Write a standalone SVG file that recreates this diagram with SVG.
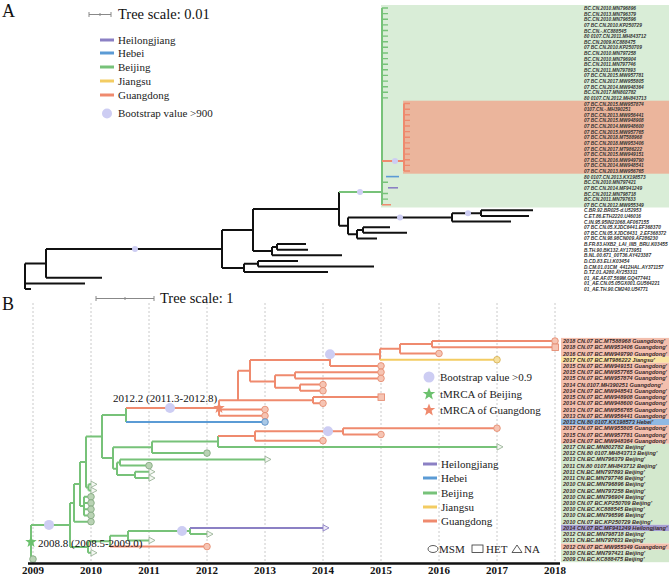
<svg xmlns="http://www.w3.org/2000/svg" width="669" height="575" viewBox="0 0 669 575">
<style>
.ttl{font-family:"Liberation Serif",serif;fill:#111}
.leg{font-family:"Liberation Serif",serif;font-size:11px;fill:#222}
.la{font-family:"Liberation Sans",Arial,sans-serif;font-size:4.8px;font-weight:bold;font-style:italic;fill:#333}
.lb{font-family:"Liberation Sans",Arial,sans-serif;font-size:5.6px;font-weight:bold;font-style:italic;fill:#3a2a2a}
.yr{font-family:"Liberation Serif",serif;font-size:11px;font-weight:bold;fill:#111;text-anchor:middle}
.k{stroke:#111;stroke-width:2;fill:none}
.g{stroke:#77c279;stroke-width:2;fill:none}
.o{stroke:#ef8a6e;stroke-width:2;fill:none}
.b{stroke:#5b9bd5;stroke-width:2;fill:none}
.p{stroke:#8b80c4;stroke-width:2;fill:none}
.y{stroke:#f3cc62;stroke-width:2;fill:none}
.ga{stroke:#77c279;stroke-width:1.4;fill:none}
.oa{stroke:#ef8a6e;stroke-width:1.4;fill:none}
.bs{fill:#cdcdf3}
.grid{stroke:#bdbdbd;stroke-width:0.8;stroke-dasharray:2,2}
.tco{fill:#f6c4b3;stroke:#e58d72;stroke-width:0.9}
.tcg{fill:#b9d3b4;stroke:#86aa82;stroke-width:0.9}
.tcb{fill:#a9c8e6;stroke:#5b8fc4;stroke-width:0.9}
.tcy{fill:#f6e0a0;stroke:#d9b45a;stroke-width:0.9}
.tri{fill:#f4f8f2;stroke:#9bb498;stroke-width:0.9}
.trp{fill:#eeeaf8;stroke:#8b80c4;stroke-width:0.9}
.bgo{fill:#f3bfae}.bgg{fill:#d3e8cd}.bgb{fill:#8fb9e3}.bgp{fill:#a79fd4}.bgy{fill:#f9e3a1}
</style>
<defs>
<path id="star" d="M0,-6 L1.6,-1.9 L5.7,-1.9 L2.4,0.7 L3.5,4.9 L0,2.4 L-3.5,4.9 L-2.4,0.7 L-5.7,-1.9 L-1.6,-1.9 Z"/>
</defs>

<!-- ================= PANEL A ================= -->
<g id="panelA-header">
<text class="ttl" x="2" y="17" font-size="18">A</text>
<path d="M89,14.5H111M89,12V17M100,13V16M111,12V17" stroke="#888" stroke-width="1" fill="none"/>
<text class="ttl" x="118" y="19" font-size="14.5">Tree scale: 0.01</text>
</g>
<g id="panelA-legend">
<path d="M100,40H114" stroke="#8b80c4" stroke-width="3"/>
<path d="M100,53H114" stroke="#5b9bd5" stroke-width="3"/>
<path d="M100,67H114" stroke="#77c279" stroke-width="3"/>
<path d="M100,81H114" stroke="#f3cc62" stroke-width="3"/>
<path d="M100,95H114" stroke="#ef8a6e" stroke-width="3"/>
<text class="leg" x="118" y="43.5">Heilongjiang</text>
<text class="leg" x="118" y="56.5">Hebei</text>
<text class="leg" x="118" y="70.5">Beijing</text>
<text class="leg" x="118" y="84.5">Jiangsu</text>
<text class="leg" x="118" y="98.5">Guangdong</text>
<circle class="bs" cx="107" cy="113.5" r="5"/>
<text class="leg" x="118" y="117">Bootstrap value &gt;900</text>
</g>
<g id="panelA-bg">
<rect x="381" y="5" width="288" height="202.5" fill="#d9edd7"/>
<rect x="403" y="100.7" width="266" height="73" fill="#ebb59c"/>
</g>
<g id="panelA-connectors">
<path class="k" d="M25,263.4V289M25,263.4H46M25,283.4H85M25,289H31"/>
<path class="k" d="M46,249V277.8M46,277.8H102M46,249H222"/>
<path class="k" d="M222,230V267.9M222,230H253M222,267.9H244"/>
<path class="k" d="M244,263.7V272.1M244,263.7H258M244,272.1H328M258,260.9V266.5M258,260.9H298M258,266.5H374"/>
<path class="k" d="M253,208.9V251.1M253,208.9H339M253,251.1H272"/>
<path class="k" d="M272,246.9V255.3M272,246.9H277M272,255.3H342M277,244V249.7M277,244H306M277,249.7H308"/>
<path class="k" d="M339,192V225.8M339,225.8H348"/>
<path class="k" d="M348,217.4V234.2M348,217.4H452M348,234.2H357"/>
<path class="k" d="M357,230V238.4M357,230H363M357,238.4H377M363,227.2V232.8M363,227.2H390M363,232.8H407"/>
<path class="k" d="M452,213.2V221.6M452,213.2H481M452,221.6H511M481,210.3V215.9M481,210.3H533M481,215.9H529"/>
<path class="g" d="M339,192H382"/>
<path class="g" d="M382,8V205" stroke-width="2.5"/>
<path class="ga" d="M382,8H388M382,13.6H388M382,19.2H388M382,24.9H388M382,30.5H388M382,36.1H388M382,41.7H388M382,47.3H388M382,53H388M382,58.6H388M382,64.2H388M382,69.8H388M382,75.4H388M382,81.1H388M382,86.7H388M382,92.3H388M382,97.9H388M382,182.2H388M382,193.5H388M382,199.1H388"/>
<path class="o" d="M382,161H404M404,103.5V171"/>
<path class="oa" d="M404,103.5H410M404,109.2H410M404,114.8H410M404,120.4H410M404,126H410M404,131.6H410M404,137.3H410M404,142.9H410M404,148.5H410M404,154.1H410M404,159.7H410M404,165.4H410M404,171H410M382,204.7H391"/>
<path d="M386,176.6H399" stroke="#5b9bd5" stroke-width="1.6"/>
<path d="M388,187.8H398" stroke="#8b80c4" stroke-width="1.6"/>
<circle class="bs" cx="135" cy="249" r="3"/>
<circle class="bs" cx="360" cy="192" r="3"/>
<circle class="bs" cx="400" cy="217.4" r="3"/>
<circle class="bs" cx="468" cy="213.2" r="3"/>
<circle class="bs" cx="395" cy="161" r="3"/>
</g>
<g id="panelA-labels">
<text class="la" x="584" y="10">BC.CN.2010.MN796896</text>
<text class="la" x="584" y="15.6">BC.CN.2013.MN796379</text>
<text class="la" x="584" y="21.2">BC.CN.2010.MN796596</text>
<text class="la" x="584" y="26.9">07 BC.CN.2010.KP250729</text>
<text class="la" x="584" y="32.5">BC.CN.-.KC888545</text>
<text class="la" x="584" y="38.1">80 0107.CN.2011.MH843712</text>
<text class="la" x="584" y="43.7">BC.CN.2009.KC888475</text>
<text class="la" x="584" y="49.3">07 BC.CN.2010.KP250709</text>
<text class="la" x="584" y="55">BC.CN.2010.MN797258</text>
<text class="la" x="584" y="60.6">BC.CN.2010.MN796904</text>
<text class="la" x="584" y="66.2">BC.CN.2011.MN797746</text>
<text class="la" x="584" y="71.8">BC.CN.2011.MN797893</text>
<text class="la" x="584" y="77.4">07 BC.CN.2015.MW957781</text>
<text class="la" x="584" y="83.1">07 BC.CN.2017.MW955805</text>
<text class="la" x="584" y="88.7">07 BC.CN.2014.MW948364</text>
<text class="la" x="584" y="94.3">BC.CN.2017.MN802782</text>
<text class="la" x="584" y="99.9">80 0107.CN.2012.MH843713</text>
<text class="la" x="584" y="105.5">07 BC.CN.2015.MW957874</text>
<text class="la" x="584" y="111.2">0107.CN.-.MH390251</text>
<text class="la" x="584" y="116.8">07 BC.CN.2013.MW956441</text>
<text class="la" x="584" y="122.4">07 BC.CN.2015.MW948908</text>
<text class="la" x="584" y="128">07 BC.CN.2014.MW948600</text>
<text class="la" x="584" y="133.6">07 BC.CN.2015.MW957765</text>
<text class="la" x="584" y="139.3">07 BC.CN.2018.MT588968</text>
<text class="la" x="584" y="144.9">07 BC.CN.2018.MW953406</text>
<text class="la" x="584" y="150.5">07 BC.CN.2017.MT986222</text>
<text class="la" x="584" y="156.1">07 BC.CN.2015.MW949151</text>
<text class="la" x="584" y="161.7">07 BC.CN.2016.MW949790</text>
<text class="la" x="584" y="167.4">07 BC.CN.2014.MW948541</text>
<text class="la" x="584" y="173">07 BC.CN.2013.MW956765</text>
<text class="la" x="584" y="178.6">80 0107.CN.2013.KX198573</text>
<text class="la" x="584" y="184.2">BC.CN.2010.MN797421</text>
<text class="la" x="584" y="189.8">07 BC.CN.2014.MF941249</text>
<text class="la" x="584" y="195.5">BC.CN.2012.MN798718</text>
<text class="la" x="584" y="201.1">BC.CN.2011.MN797633</text>
<text class="la" x="584" y="206.7">07 BC.CN.2012.MW955349</text>
<text class="la" x="584" y="212.3">C.BR.92.BR025-d.U52953</text>
<text class="la" x="584" y="217.9">C.ET.86.ETH2220.U46016</text>
<text class="la" x="584" y="223.6">C.IN.95.95IN21068.AF067155</text>
<text class="la" x="584" y="229.2">07 BC.CN.05.XJDC6441.EF368370</text>
<text class="la" x="584" y="234.8">07 BC.CN.05.XJDC6431_2.EF368372</text>
<text class="la" x="584" y="240.4">07 BC.CN.98.98CN009.AF286230</text>
<text class="la" x="584" y="246">B.FR.83.HXB2_LAI_IIIB_BRU.K03455</text>
<text class="la" x="584" y="251.7">B.TH.90.BK132.AY173951</text>
<text class="la" x="584" y="257.3">B.NL.00.671_00T36.AY423387</text>
<text class="la" x="584" y="262.9">D.CD.83.ELI.K03454</text>
<text class="la" x="584" y="268.5">D.CM.01.01CM_4412HAL.AY371157</text>
<text class="la" x="584" y="274.1">D.TZ.01.A280.AY253311</text>
<text class="la" x="584" y="279.8">01_AE.AF.07.569M.GQ477441</text>
<text class="la" x="584" y="285.4">01_AE.CN.05.05GX001.GU564221</text>
<text class="la" x="584" y="291">01_AE.TH.90.CM240.U54771</text>
</g>

<!-- ================= PANEL B ================= -->
<g id="panelB-header">
<text class="ttl" x="2" y="310" font-size="18">B</text>
<path d="M96,298.5H154M96,296V301M125,297V300M154,296V301" stroke="#888" stroke-width="1" fill="none"/>
<text class="ttl" x="160" y="303" font-size="14.5">Tree scale: 1</text>
</g>
<g id="panelB-grid">
<path class="grid" d="M33,303V562M91,303V562M149,303V562M207,303V562M265,303V562M323,303V562M381,303V562M439,303V562M497,303V562M555,303V562"/>
</g>
<g id="panelB-label-bg">
<rect class="bgo" x="561" y="337.9" width="108" height="18.8"/>
<rect class="bgy" x="561" y="356.6" width="108" height="6.2"/>
<rect class="bgo" x="561" y="362.8" width="108" height="56.1"/>
<rect class="bgb" x="561" y="418.9" width="108" height="6.2"/>
<rect class="bgo" x="561" y="425.1" width="108" height="18.7"/>
<rect class="bgg" x="561" y="443.8" width="108" height="81"/>
<rect class="bgp" x="561" y="524.8" width="108" height="6.2"/>
<rect class="bgg" x="561" y="531" width="108" height="12.5"/>
<rect class="bgo" x="561" y="543.5" width="108" height="6.2"/>
<rect class="bgg" x="561" y="549.7" width="108" height="12.5"/>
</g>
<g id="panelB-connectors">
<path class="g" d="M31,524.9V559.1M31,524.9H70M31,559.1H33"/>
<path class="g" d="M70,502.9V547M70,502.9H74M70,547H88"/>
<path class="g" d="M88,541.2V552.8M88,541.2H110M88,552.8H91"/>
<path class="g" d="M110,535.7V546.6M110,535.7H128"/>
<path class="o" d="M110,546.6H207"/>
<path class="g" d="M128,531V540.4M128,531H190M128,540.4H149"/>
<path class="g" d="M190,527.9V534.1M190,534.1H207"/>
<path class="p" d="M190,527.9H323"/>
<path class="g" d="M74,484V521.7M74,484H80M74,521.7H91"/>
<path class="g" d="M80,462V506.1M80,462H86M80,506.1H84"/>
<path class="g" d="M84,496.8V515.4M84,496.8H91M84,503H91M84,509.2H91M84,515.4H91"/>
<path class="g" d="M86,436.5V487.4M86,436.5H102M86,487.4H88.5M88.5,484.3V490.5M88.5,484.3H91M88.5,490.5H91"/>
<path class="g" d="M102,415V458M102,415H126M102,458H113"/>
<path class="g" d="M126,408V422"/>
<path class="o" d="M126,408H219"/>
<path class="b" d="M126,422H265"/>
<path class="g" d="M113,447.3V468.7M113,447.3H152M113,468.7H117"/>
<path class="g" d="M117,462.5V475M117,462.5H120M117,475H135"/>
<path class="g" d="M120,459.4V465.6M120,459.4H265M120,465.6H149"/>
<path class="g" d="M135,471.8V478.1M135,471.8H149M135,478.1H149"/>
<path class="g" d="M152,441.5V453.1M152,441.5H218M152,453.1H207"/>
<path class="g" d="M218,436V446.9M218,446.9H497"/>
<path class="o" d="M218,436H255M255,431.3V440.7M255,431.3H343M255,440.7H323M343,428.2V434.5M343,428.2H497M343,434.5H381"/>
<path class="o" d="M219,400.2V415.8M219,400.2H313M219,409.5H265M219,415.8H265"/>
<path class="o" d="M238,370.8V400.2M238,370.8H250M313,397.1V403.3M313,397.1H381M313,403.3H323"/>
<path class="o" d="M250,360.1V381.5M250,360.1H330M250,381.5H275"/>
<path class="o" d="M275,375.3V387.7M275,375.3H295M275,387.7H300M295,372.2V378.4M295,372.2H381M295,378.4H381M300,384.6V390.8M300,384.6H323M300,390.8H323"/>
<path class="o" d="M330,354.3V365.9M330,354.3H380M330,365.9H381"/>
<path class="o" d="M380,348.8V359.7M380,348.8H400M400,344.1V353.5M400,344.1H432M400,353.5H439M432,341V347.2M432,341H555M432,347.2H555"/>
<path class="y" d="M380,359.7H497"/>
</g>
<g id="panelB-bootstrap">
<circle class="bs" cx="49" cy="524.9" r="5"/>
<circle class="bs" cx="182" cy="531" r="5"/>
<circle class="bs" cx="328" cy="431.3" r="5"/>
<circle class="bs" cx="170" cy="408" r="5"/>
<circle class="bs" cx="330" cy="354.3" r="5"/>
</g>
<g id="panelB-tips">
<circle class="tco" cx="555" cy="341" r="3.3"/>
<rect class="tco" x="552" y="344" width="6.5" height="6.5"/>
<circle class="tco" cx="439" cy="353.5" r="3.3"/>
<circle class="tcy" cx="497" cy="359.7" r="3.3"/>
<circle class="tco" cx="381" cy="365.9" r="3.3"/>
<circle class="tco" cx="381" cy="372.2" r="3.3"/>
<circle class="tco" cx="381" cy="378.4" r="3.3"/>
<circle class="tco" cx="323" cy="384.6" r="3.3"/>
<circle class="tco" cx="323" cy="390.8" r="3.3"/>
<rect class="tco" x="378" y="393.9" width="6.5" height="6.5"/>
<circle class="tco" cx="323" cy="403.3" r="3.3"/>
<circle class="tco" cx="265" cy="409.5" r="3.3"/>
<circle class="tco" cx="265" cy="415.8" r="3.3"/>
<circle class="tcb" cx="265" cy="422" r="3.3"/>
<circle class="tco" cx="497" cy="428.2" r="3.3"/>
<circle class="tco" cx="381" cy="434.5" r="3.3"/>
<circle class="tco" cx="323" cy="440.7" r="3.3"/>
<path class="tri" d="M497,443.7L503,446.9L497,450.1Z"/>
<circle class="tcg" cx="207" cy="453.1" r="3.3"/>
<path class="tri" d="M265,456.2L271,459.4L265,462.6Z"/>
<circle class="tcg" cx="149" cy="465.6" r="3.3"/>
<path class="tri" d="M149,468.6L155,471.8L149,475Z"/>
<path class="tri" d="M149,474.9L155,478.1L149,481.3Z"/>
<path class="tri" d="M91,481.1L97,484.3L91,487.5Z"/>
<path class="tri" d="M91,487.3L97,490.5L91,493.7Z"/>
<circle class="tcg" cx="91" cy="496.8" r="3.3"/>
<circle class="tcg" cx="91" cy="503" r="3.3"/>
<circle class="tcg" cx="91" cy="509.2" r="3.3"/>
<circle class="tcg" cx="91" cy="515.4" r="3.3"/>
<circle class="tcg" cx="91" cy="521.7" r="3.3"/>
<path class="trp" d="M323,524.7L329,527.9L323,531.1Z"/>
<path class="tri" d="M207,530.9L213,534.1L207,537.3Z"/>
<path class="tri" d="M149,537.2L155,540.4L149,543.6Z"/>
<circle class="tco" cx="207" cy="546.6" r="3.3"/>
<path class="tri" d="M91,549.6L97,552.8L91,556Z"/>
<circle class="tcg" cx="33" cy="559.1" r="3.3"/>
</g>
<g id="panelB-tmrca">
<use href="#star" x="31" y="542" fill="#6cc16e"/>
<text class="ttl" x="38" y="547" font-size="11">2008.8 (2008.5-2009.0)</text>
<use href="#star" x="219" y="408" fill="#ef8a6e"/>
<text class="ttl" x="113" y="402" font-size="11">2012.2 (2011.3-2012.8)</text>
</g>
<g id="panelB-labels">
<text class="lb" x="563" y="343">2018 CN.07 BC.MT588968 Guangdong'</text>
<text class="lb" x="563" y="349.2">2018 CN.07 BC.MW953406 Guangdong'</text>
<text class="lb" x="563" y="355.5">2016 CN.07 BC.MW949790 Guangdong'</text>
<text class="lb" x="563" y="361.7">2017 CN.07 BC.MT986222 Jiangsu'</text>
<text class="lb" x="563" y="367.9">2015 CN.07 BC.MW949151 Guangdong'</text>
<text class="lb" x="563" y="374.2">2015 CN.07 BC.MW957765 Guangdong'</text>
<text class="lb" x="563" y="380.4">2015 CN.07 BC.MW957874 Guangdong'</text>
<text class="lb" x="563" y="386.6">2014 CN.0107.MH390251 Guangdong'</text>
<text class="lb" x="563" y="392.8">2014 CN.07 BC.MW948541 Guangdong'</text>
<text class="lb" x="563" y="399.1">2015 CN.07 BC.MW948908 Guangdong'</text>
<text class="lb" x="563" y="405.3">2014 CN.07 BC.MW948600 Guangdong'</text>
<text class="lb" x="563" y="411.5">2013 CN.07 BC.MW956765 Guangdong'</text>
<text class="lb" x="563" y="417.8">2013 CN.07 BC.MW956441 Guangdong'</text>
<text class="lb" x="563" y="424">2013 CN.80 0107.KX198573 Hebei'</text>
<text class="lb" x="563" y="430.2">2017 CN.07 BC.MW955805 Guangdong'</text>
<text class="lb" x="563" y="436.5">2015 CN.07 BC.MW957781 Guangdong'</text>
<text class="lb" x="563" y="442.7">2014 CN.07 BC.MW948364 Guangdong'</text>
<text class="lb" x="563" y="448.9">2017 CN.BC.MN802782 Beijing'</text>
<text class="lb" x="563" y="455.1">2012 CN.80 0107.MH843713 Beijing'</text>
<text class="lb" x="563" y="461.4">2013 CN.BC.MN796379 Beijing'</text>
<text class="lb" x="563" y="467.6">2011 CN.80 0107.MH843712 Beijing'</text>
<text class="lb" x="563" y="473.8">2011 CN.BC.MN797893 Beijing'</text>
<text class="lb" x="563" y="480.1">2011 CN.BC.MN797746 Beijing'</text>
<text class="lb" x="563" y="486.3">2010 CN.BC.MN796896 Beijing'</text>
<text class="lb" x="563" y="492.5">2010 CN.BC.MN797258 Beijing'</text>
<text class="lb" x="563" y="498.8">2010 CN.BC.MN796904 Beijing'</text>
<text class="lb" x="563" y="505">2010 CN.07 BC.KP250709 Beijing'</text>
<text class="lb" x="563" y="511.2">2010 CN.BC.KC888545 Beijing'</text>
<text class="lb" x="563" y="517.4">2010 CN.BC.MN796596 Beijing'</text>
<text class="lb" x="563" y="523.7">2010 CN.07 BC.KP250729 Beijing'</text>
<text class="lb" x="563" y="529.9">2014 CN.07 BC.MF941249 Heilongjiang'</text>
<text class="lb" x="563" y="536.1">2012 CN.BC.MN798718 Beijing'</text>
<text class="lb" x="563" y="542.4">2011 CN.BC.MN797633 Beijing'</text>
<text class="lb" x="563" y="548.6">2012 CN.07 BC.MW955349 Guangdong'</text>
<text class="lb" x="563" y="554.8">2010 CN.BC.MN797421 Beijing'</text>
<text class="lb" x="563" y="561.1">2009 CN.BC.KC888475 Beijing'</text>
</g>
<g id="panelB-legend">
<circle class="bs" cx="429" cy="377" r="5.5"/>
<text class="leg" x="440" y="381">Bootstrap value &gt;0.9</text>
<use href="#star" x="429" y="394" fill="#6cc16e" transform="translate(-42.9,-39.4) scale(1.1)"/>
<text class="leg" x="440" y="398">tMRCA of Beijing</text>
<use href="#star" x="429" y="410" fill="#ef8a6e" transform="translate(-42.9,-41) scale(1.1)"/>
<text class="leg" x="440" y="414">tMRCA of Guangdong</text>
<path d="M423,464H437" stroke="#8b80c4" stroke-width="3"/>
<path d="M423,478H437" stroke="#5b9bd5" stroke-width="3"/>
<path d="M423,493H437" stroke="#77c279" stroke-width="3"/>
<path d="M423,507H437" stroke="#f3cc62" stroke-width="3"/>
<path d="M423,521H437" stroke="#ef8a6e" stroke-width="3"/>
<text class="leg" x="441" y="468">Heilongjiang</text>
<text class="leg" x="441" y="482">Hebei</text>
<text class="leg" x="441" y="497">Beijing</text>
<text class="leg" x="441" y="511">Jiangsu</text>
<text class="leg" x="441" y="525">Guangdong</text>
<ellipse cx="433" cy="549" rx="5" ry="3.5" fill="none" stroke="#333" stroke-width="0.8"/>
<text class="leg" x="439" y="553">MSM</text>
<rect x="472" y="545" width="11" height="7.5" fill="none" stroke="#333" stroke-width="0.8"/>
<text class="leg" x="486" y="553">HET</text>
<path d="M512,552.5L517,545L522,552.5Z" fill="none" stroke="#333" stroke-width="0.8"/>
<text class="leg" x="524" y="553">NA</text>
</g>
<g id="panelB-axis">
<path d="M28,563.5H560" stroke="#111" stroke-width="2.5"/>
<text class="yr" x="33" y="573.5">2009</text>
<text class="yr" x="91" y="573.5">2010</text>
<text class="yr" x="149" y="573.5">2011</text>
<text class="yr" x="207" y="573.5">2012</text>
<text class="yr" x="265" y="573.5">2013</text>
<text class="yr" x="323" y="573.5">2014</text>
<text class="yr" x="381" y="573.5">2015</text>
<text class="yr" x="439" y="573.5">2016</text>
<text class="yr" x="497" y="573.5">2017</text>
<text class="yr" x="555" y="573.5">2018</text>
</g>
</svg>
